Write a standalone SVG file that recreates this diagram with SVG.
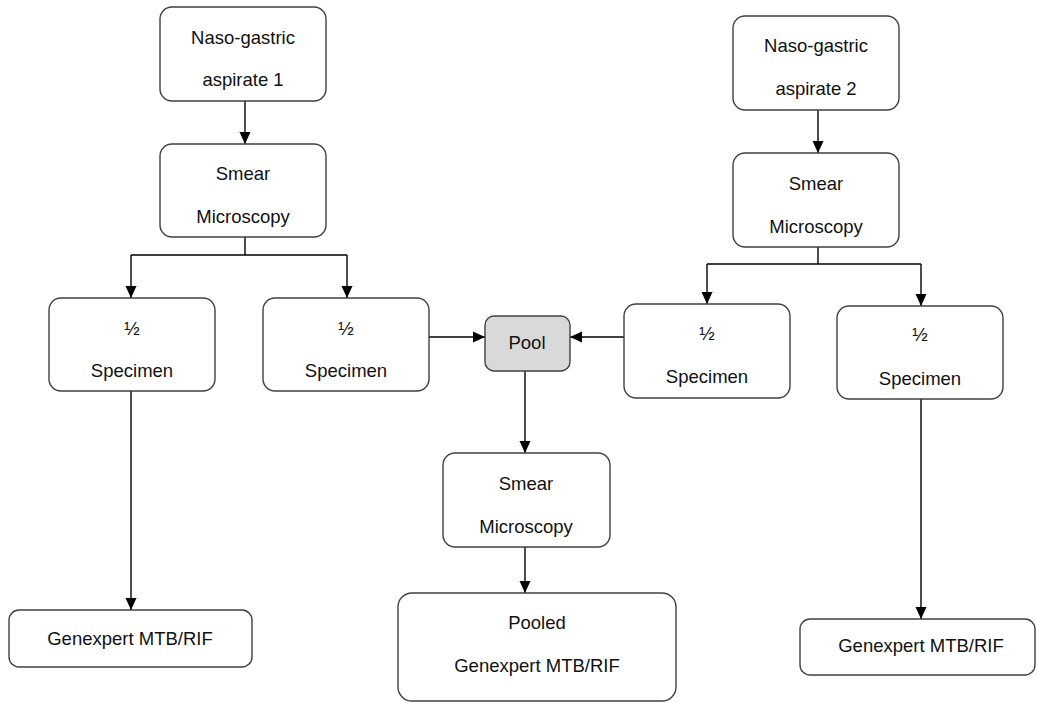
<svg xmlns="http://www.w3.org/2000/svg" width="1037" height="703" viewBox="0 0 1037 703">
<style>
.box{fill:#ffffff;stroke:#404040;stroke-width:1.4}
.pool{fill:#d9d9d9;stroke:#404040;stroke-width:1.4}
.t{font-family:"Liberation Sans",Arial,sans-serif;font-size:18.5px;fill:#111111;text-anchor:middle;dominant-baseline:central}
.c{fill:none;stroke:#000000;stroke-width:1.4}
.a{marker-end:url(#ah)}
</style>
<defs>
<marker id="ah" markerUnits="userSpaceOnUse" markerWidth="12" markerHeight="12" viewBox="0 0 12 12" refX="12" refY="6" orient="auto">
<path d="M0,0.5 L12,6 L0,11.5 Z" fill="#000000"/>
</marker>
</defs>
<rect width="1037" height="703" fill="#ffffff"/>
<g id="connectors">
<path class="c a" d="M245,101 V144"/>
<path class="c" d="M245,237 V255 M131,255 H347"/>
<path class="c a" d="M131,255 V298"/>
<path class="c a" d="M347,255 V298"/>
<path class="c a" d="M131,391 V610"/>
<path class="c a" d="M429,337 H485"/>
<path class="c a" d="M624,337 H570"/>
<path class="c a" d="M525,371 V453"/>
<path class="c a" d="M525,547 V593"/>
<path class="c a" d="M818,110 V153"/>
<path class="c" d="M818,247 V264 M707,264 H921"/>
<path class="c a" d="M707,264 V304"/>
<path class="c a" d="M921,264 V306"/>
<path class="c a" d="M921,399 V619"/>
</g>
<g id="nga1">
<rect class="box" x="160" y="7" width="166" height="94" rx="12"/>
<text class="t" x="243" y="37">Naso-gastric</text>
<text class="t" x="243" y="79">aspirate 1</text>
</g>
<g id="smear1">
<rect class="box" x="160" y="144" width="166" height="93" rx="12"/>
<text class="t" x="243" y="173">Smear</text>
<text class="t" x="243" y="216">Microscopy</text>
</g>
<g id="half1a">
<rect class="box" x="49" y="298" width="166" height="93" rx="12"/>
<text class="t" x="132" y="328">½</text>
<text class="t" x="132" y="370">Specimen</text>
</g>
<g id="half1b">
<rect class="box" x="263" y="298" width="166" height="93" rx="12"/>
<text class="t" x="346" y="328">½</text>
<text class="t" x="346" y="370">Specimen</text>
</g>
<g id="pool">
<rect class="pool" x="485" y="316" width="85" height="55" rx="9"/>
<text class="t" x="527" y="342">Pool</text>
</g>
<g id="half2a">
<rect class="box" x="624" y="304" width="166" height="94" rx="12"/>
<text class="t" x="707" y="333">½</text>
<text class="t" x="707" y="376">Specimen</text>
</g>
<g id="nga2">
<rect class="box" x="733" y="16" width="166" height="94" rx="12"/>
<text class="t" x="816" y="45">Naso-gastric</text>
<text class="t" x="816" y="88">aspirate 2</text>
</g>
<g id="smear2">
<rect class="box" x="733" y="153" width="166" height="94" rx="12"/>
<text class="t" x="816" y="183">Smear</text>
<text class="t" x="816" y="226">Microscopy</text>
</g>
<g id="half2b">
<rect class="box" x="837" y="306" width="166" height="93" rx="12"/>
<text class="t" x="920" y="334">½</text>
<text class="t" x="920" y="378">Specimen</text>
</g>
<g id="smearPooled">
<rect class="box" x="443" y="453" width="167" height="94" rx="12"/>
<text class="t" x="526" y="483">Smear</text>
<text class="t" x="526" y="526">Microscopy</text>
</g>
<g id="pooledGenexpert">
<rect class="box" x="398" y="593" width="278" height="108" rx="14"/>
<text class="t" x="537" y="622">Pooled</text>
<text class="t" x="537" y="665">Genexpert MTB/RIF</text>
</g>
<g id="genexpert1">
<rect class="box" x="9" y="610" width="243" height="57" rx="10"/>
<text class="t" x="130" y="638">Genexpert MTB/RIF</text>
</g>
<g id="genexpert2">
<rect class="box" x="800" y="619" width="235" height="56" rx="10"/>
<text class="t" x="921" y="645">Genexpert MTB/RIF</text>
</g>
</svg>
